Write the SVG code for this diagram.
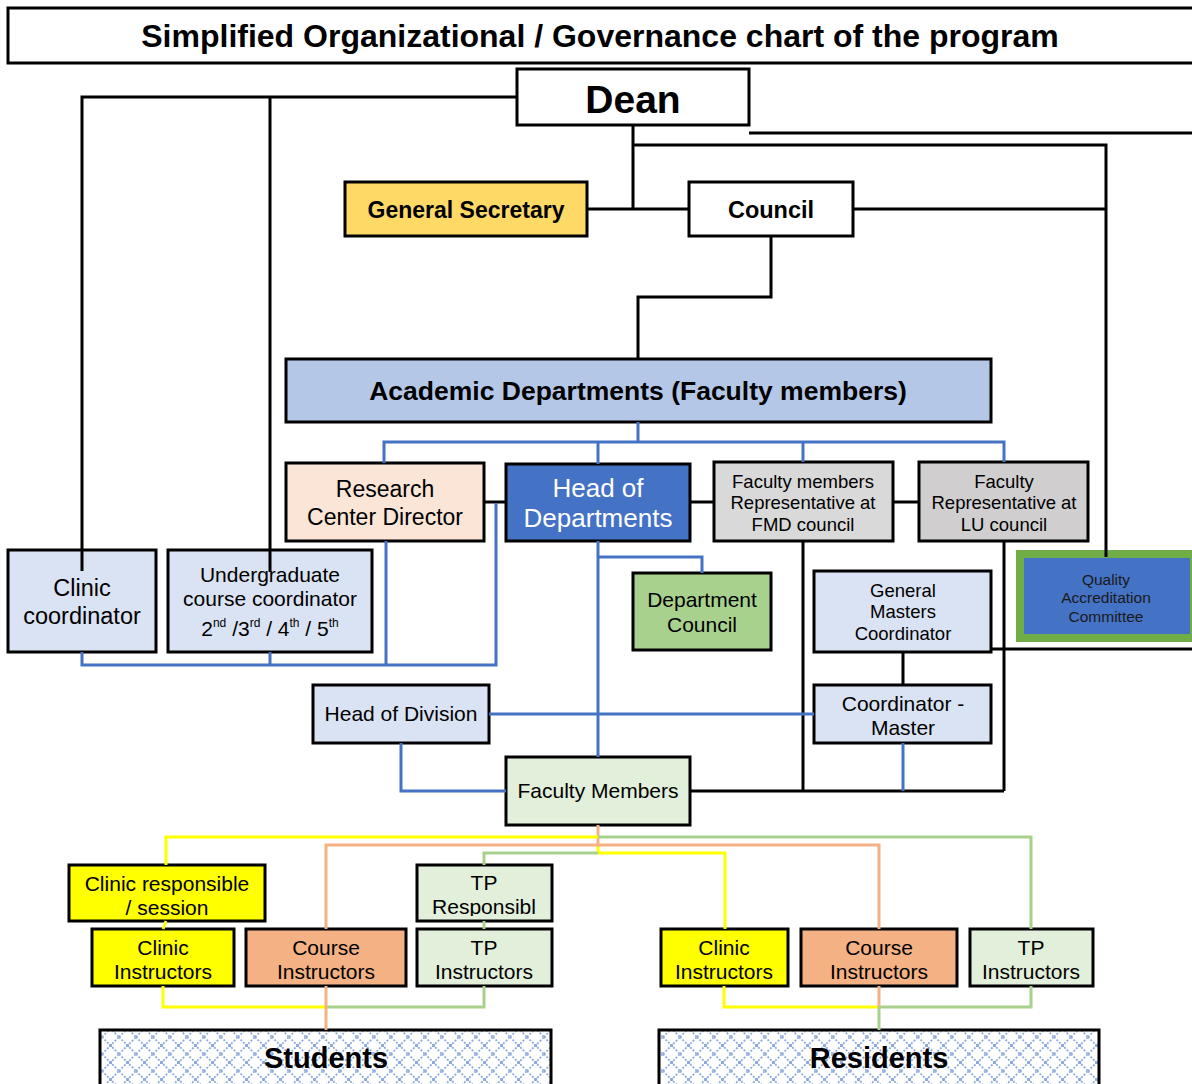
<svg xmlns="http://www.w3.org/2000/svg" width="1192" height="1084" viewBox="0 0 1192 1084">
<style>
text{font-family:"Liberation Sans",Arial,sans-serif;fill:#000;text-anchor:middle}
.b{font-weight:bold}
.box{stroke:#000;stroke-width:3}
.k{fill:none;stroke:#000;stroke-width:3}
.bl{fill:none;stroke:#4472C4;stroke-width:3}
.y{fill:none;stroke:#FFFF00;stroke-width:3}
.o{fill:none;stroke:#F4B183;stroke-width:3}
.g{fill:none;stroke:#A9D18E;stroke-width:3}
</style>
<defs>
<pattern id="lattice" width="17" height="17" patternUnits="userSpaceOnUse">
<rect width="17" height="17" fill="#fff"/>
<path d="M0 0L8.5 8.5L17 0M0 17L8.5 8.5L17 17" fill="none" stroke="#8FAADC" stroke-width="1.8" stroke-dasharray="2 1.6"/>
<rect x="7" y="7" width="3" height="3" fill="#8FAADC"/>
</pattern>
<clipPath id="tpclip"><rect x="418" y="866" width="133" height="50"/></clipPath>
</defs>
<rect width="1192" height="1084" fill="#fff"/>

<g id="title">
<rect x="8" y="8" width="1200" height="55" fill="#fff" class="box" stroke-width="2"/>
<text x="600" y="47" class="b" font-size="32">Simplified Organizational / Governance chart of the program</text>
</g>

<g id="dean">
<rect x="517" y="69" width="232" height="56" fill="#fff" class="box"/>
<text x="633" y="113" class="b" font-size="39">Dean</text>
</g>

<g id="general-secretary">
<rect x="345" y="182" width="242" height="54" fill="#FFD966" class="box"/>
<text x="466" y="218" class="b" font-size="23">General Secretary</text>
</g>

<g id="council">
<rect x="689" y="182" width="164" height="54" fill="#fff" class="box"/>
<text x="771" y="218" class="b" font-size="23.5">Council</text>
</g>

<g id="academic-departments">
<rect x="286" y="359" width="705" height="63" fill="#B4C7E7" class="box"/>
<text x="638" y="400" class="b" font-size="26.5">Academic Departments (Faculty members)</text>
</g>

<g id="research-center-director">
<rect x="286" y="463" width="198" height="78" fill="#FBE5D6" class="box"/>
<text x="385" y="497" font-size="23">Research</text>
<text x="385" y="525" font-size="23">Center Director</text>
</g>

<g id="head-of-departments">
<rect x="506" y="464" width="184" height="77" fill="#4472C4" class="box"/>
<text x="598" y="497" font-size="26" style="fill:#fff">Head of</text>
<text x="598" y="527" font-size="26" style="fill:#fff">Departments</text>
</g>

<g id="fmd-representative">
<rect x="714" y="462" width="179" height="79" fill="#D9D9D9" class="box"/>
<text x="803" y="488" font-size="18.5">Faculty members</text>
<text x="803" y="509" font-size="18.5">Representative at</text>
<text x="803" y="531" font-size="18.5">FMD council</text>
</g>

<g id="lu-representative">
<rect x="919" y="462" width="169" height="79" fill="#D0CECE" class="box"/>
<text x="1004" y="488" font-size="18.5">Faculty</text>
<text x="1004" y="509" font-size="18.5">Representative at</text>
<text x="1004" y="531" font-size="18.5">LU council</text>
</g>

<g id="clinic-coordinator">
<rect x="8" y="550" width="148" height="102" fill="#DAE3F3" class="box"/>
<text x="82" y="596" font-size="23.5">Clinic</text>
<text x="82" y="624" font-size="23.5">coordinator</text>
</g>

<g id="undergraduate-coordinator">
<rect x="168" y="550" width="204" height="102" fill="#DAE3F3" class="box"/>
<text x="270" y="582" font-size="21">Undergraduate</text>
<text x="270" y="606" font-size="21">course coordinator</text>
<text x="270" y="636" font-size="21">2<tspan font-size="12" dy="-9">nd</tspan><tspan dy="9"> /3</tspan><tspan font-size="12" dy="-9">rd</tspan><tspan dy="9"> / 4</tspan><tspan font-size="12" dy="-9">th</tspan><tspan dy="9"> / 5</tspan><tspan font-size="12" dy="-9">th</tspan></text>
</g>

<g id="department-council">
<rect x="633" y="573" width="138" height="77" fill="#A9D18E" class="box"/>
<text x="702" y="607" font-size="21">Department</text>
<text x="702" y="632" font-size="21">Council</text>
</g>

<g id="general-masters-coordinator">
<rect x="814" y="571" width="177" height="81" fill="#DAE3F3" class="box"/>
<text x="903" y="597" font-size="18.5">General</text>
<text x="903" y="618" font-size="18.5">Masters</text>
<text x="903" y="640" font-size="18.5">Coordinator</text>
</g>

<g id="quality-accreditation-committee">
<rect x="1020" y="554" width="174" height="84" fill="#4472C4" stroke="#70AD47" stroke-width="8"/>
<text x="1106" y="585" font-size="15.5" style="fill:#1a1a1a">Quality</text>
<text x="1106" y="603" font-size="15.5" style="fill:#1a1a1a">Accreditation</text>
<text x="1106" y="622" font-size="15.5" style="fill:#1a1a1a">Committee</text>
</g>

<g id="coordinator-master">
<rect x="814" y="685" width="177" height="58" fill="#DAE3F3" class="box"/>
<text x="903" y="711" font-size="21">Coordinator -</text>
<text x="903" y="735" font-size="21">Master</text>
</g>

<g id="head-of-division">
<rect x="313" y="685" width="176" height="58" fill="#DAE3F3" class="box"/>
<text x="401" y="721" font-size="21">Head of Division</text>
</g>

<g id="faculty-members">
<rect x="506" y="757" width="184" height="68" fill="#E2EFDA" class="box"/>
<text x="598" y="798" font-size="21">Faculty Members</text>
</g>

<g id="clinic-responsible">
<rect x="69" y="865" width="196" height="56" fill="#FFFF00" class="box"/>
<text x="167" y="891" font-size="21">Clinic responsible</text>
<text x="167" y="915" font-size="21">/ session</text>
</g>

<g id="tp-responsible">
<rect x="417" y="865" width="135" height="56" fill="#E2EFDA" class="box"/>
<g clip-path="url(#tpclip)">
<text x="484" y="890" font-size="21">TP</text>
<text x="484" y="914" font-size="21">Responsibl</text>
</g>
</g>

<g id="clinic-instructors-ug">
<rect x="92" y="929" width="142" height="57" fill="#FFFF00" class="box"/>
<text x="163" y="955" font-size="21">Clinic</text>
<text x="163" y="979" font-size="21">Instructors</text>
</g>

<g id="course-instructors-ug">
<rect x="246" y="929" width="160" height="57" fill="#F4B183" class="box"/>
<text x="326" y="955" font-size="21">Course</text>
<text x="326" y="979" font-size="21">Instructors</text>
</g>

<g id="tp-instructors-ug">
<rect x="417" y="929" width="135" height="57" fill="#E2EFDA" class="box"/>
<text x="484" y="955" font-size="21">TP</text>
<text x="484" y="979" font-size="21">Instructors</text>
</g>

<g id="clinic-instructors-pg">
<rect x="661" y="929" width="127" height="57" fill="#FFFF00" class="box"/>
<text x="724" y="955" font-size="21">Clinic</text>
<text x="724" y="979" font-size="21">Instructors</text>
</g>

<g id="course-instructors-pg">
<rect x="801" y="929" width="156" height="57" fill="#F4B183" class="box"/>
<text x="879" y="955" font-size="21">Course</text>
<text x="879" y="979" font-size="21">Instructors</text>
</g>

<g id="tp-instructors-pg">
<rect x="970" y="929" width="123" height="57" fill="#E2EFDA" class="box"/>
<text x="1031" y="955" font-size="21">TP</text>
<text x="1031" y="979" font-size="21">Instructors</text>
</g>

<g id="students">
<rect x="100" y="1030" width="451" height="62" fill="url(#lattice)" class="box"/>
<text x="326" y="1068" class="b" font-size="29">Students</text>
</g>

<g id="residents">
<rect x="659" y="1030" width="440" height="62" fill="url(#lattice)" class="box"/>
<text x="879" y="1068" class="b" font-size="29">Residents</text>
</g>

<g id="connectors">
<path class="k" d="M517 97H82V571"/>
<path class="k" d="M270 97V572"/>
<path class="k" d="M749 133H1192"/>
<path class="k" d="M633 125V209"/>
<path class="k" d="M633 145H1106V557"/>
<path class="k" d="M587 209H689"/>
<path class="k" d="M853 209H1106"/>
<path class="k" d="M771 236V297H638V359"/>
<path class="k" d="M484 502H506"/>
<path class="k" d="M690 502H714"/>
<path class="k" d="M893 502H919"/>
<path class="k" d="M991 649H1192"/>
<path class="k" d="M903 652V685"/>
<path class="k" d="M803 541V791"/>
<path class="k" d="M1004 541V791"/>
<path class="k" d="M690 791H1004"/>
<path class="bl" d="M638 422V442"/>
<path class="bl" d="M384 463V442H1004V462"/>
<path class="bl" d="M598 442V464"/>
<path class="bl" d="M803 442V462"/>
<path class="bl" d="M82 652V665H496V503"/>
<path class="bl" d="M270 652V665"/>
<path class="bl" d="M386 541V665"/>
<path class="bl" d="M598 541V757"/>
<path class="bl" d="M598 557H702V573"/>
<path class="bl" d="M489 714H814"/>
<path class="bl" d="M401 743V791H506"/>
<path class="bl" d="M903 743V791"/>
<path class="o" d="M598 825V845"/>
<path class="y" d="M598 845V853H725V929"/>
<path class="y" d="M598 837H166V865"/>
<path class="g" d="M598 837H1031V929"/>
<path class="g" d="M598 853H484V865"/>
<path class="o" d="M326 929V845H879V929"/>
<path class="y" d="M166 921L163 929"/>
<path class="g" d="M484 921V929"/>
<path class="y" d="M163 986V1007H326"/>
<path class="g" d="M484 986V1007H326"/>
<path class="o" d="M326 986V1030"/>
<path class="y" d="M724 986V1007H879"/>
<path class="g" d="M1031 986V1007H879V1030"/>
<path class="o" d="M879 986V1007"/>
</g>
</svg>
